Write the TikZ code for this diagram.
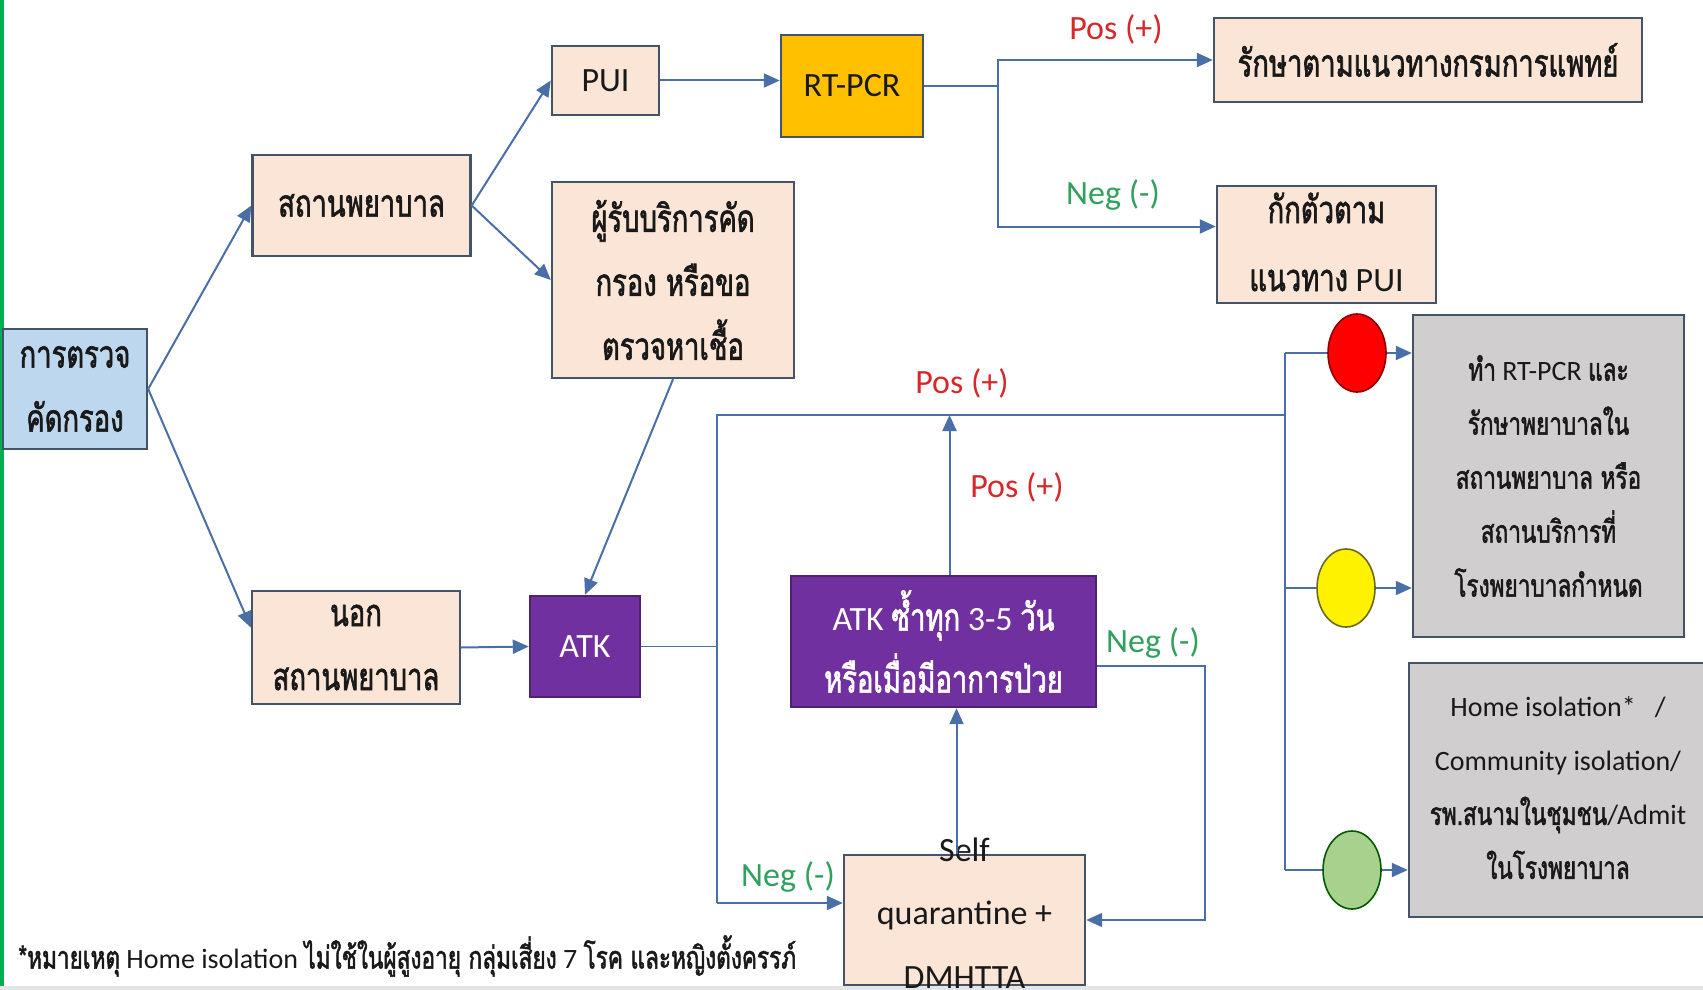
\documentclass[tikz,border=0pt]{standalone}
\usepackage{fontspec}
\setmainfont{Carlito}
\newfontfamily\thaifont[Script=Thai,FakeStretch=0.72,Scale=1.12,FakeBold=1.6]{Loma}
\newcommand\thtxt[1]{{\thaifont #1}}
\usetikzlibrary{arrows.meta,shapes.geometric}

\definecolor{peach}{HTML}{FBE5D6}
\definecolor{skyfill}{HTML}{BDD7EE}
\definecolor{boxline}{HTML}{445468}
\definecolor{arrowblue}{HTML}{4A6FA8}
\definecolor{rtorange}{HTML}{FFC000}
\definecolor{atkpurple}{HTML}{7030A0}
\definecolor{grayfill}{HTML}{D0CECE}
\definecolor{posred}{HTML}{D6282B}
\definecolor{neggreen}{HTML}{2FA05E}
\definecolor{edgegreen}{HTML}{00B050}

\tikzset{
  box/.style={draw=boxline, line width=1.2pt, fill=peach, align=center,
    inner sep=0pt, text=black!90, font=\fontsize{17}{32}\selectfont},
  graybox/.style={box, fill=grayfill, font=\fontsize{14}{27}\selectfont},
  purplebox/.style={box, fill=atkpurple, draw=atkpurple!70!black, text=white},
  arr/.style={draw=arrowblue, line width=1pt, -{Triangle[length=8pt,width=7pt]}},
  wire/.style={draw=arrowblue, line width=0.7pt},
  dot/.style={ellipse, draw, line width=0.8pt, minimum width=29pt,
    minimum height=39pt, inner sep=0pt},
  poslabel/.style={text=posred, font=\fontsize{17}{20}\selectfont},
  neglabel/.style={text=neggreen, font=\fontsize{17}{20}\selectfont}
}

\begin{document}
\begin{tikzpicture}[x=0.5pt, y=-0.5pt]
  \useasboundingbox (0,0) rectangle (1703,990);
  \fill[edgegreen] (0,0) rectangle (4,990);
  \fill[black!10] (0,986) rectangle (1703,990);

  % left part
  \node[box, fill=skyfill, minimum width=72pt, minimum height=60pt] (screen) at (75,389)
    {\thtxt{การตรวจ}\\\thtxt{คัดกรอง}};
  \node[box, minimum width=109pt, minimum height=50.5pt] (hosp) at (361.5,205.5)
    {\thtxt{สถานพยาบาล}};
  \node[box, minimum width=104pt, minimum height=56.5pt] (outside) at (356,647.5)
    {\thtxt{นอก}\\\thtxt{สถานพยาบาล}};
  \node[box, minimum width=53.5pt, minimum height=34.5pt] (pui) at (605.5,80.5) {PUI};
  \node[box, fill=rtorange, minimum width=71pt, minimum height=51pt] (rtpcr) at (852,86) {RT-PCR};
  \node[box, minimum width=121pt, minimum height=98pt] (screenreq) at (673,280)
    {\thtxt{ผู้รับบริการคัด}\\\thtxt{กรอง หรือขอ}\\\thtxt{ตรวจหาเชื้อ}};
  \node[purplebox, minimum width=55pt, minimum height=50.5pt] (atk) at (585,646.5) {ATK};

  % top right
  \node[box, minimum width=214pt, minimum height=42pt] (treat) at (1428,60)
    {\thtxt{รักษาตามแนวทางกรมการแพทย์}};
  \node[box, minimum width=109.5pt, minimum height=58.5pt] (quarantine) at (1326.5,244.5) {};
  \node[align=center, font=\fontsize{17}{34}\selectfont, text=black!90] (quarantinetext)
    at (1326.5,242) {\thtxt{กักตัวตาม}\\\thtxt{แนวทาง} PUI};

  % middle
  \node[purplebox, minimum width=152.5pt, minimum height=65.5pt, font=\fontsize{17}{31}\selectfont]
    (atkrep) at (943.5,641.5) {ATK \thtxt{ซ้ำทุก} 3-5 \thtxt{วัน}\\\thtxt{หรือเมื่อมีอาการป่วย}};
  \node[box, minimum width=120.5pt, minimum height=65pt] (selfq) at (964.5,920) {};
  \node[align=center, font=\fontsize{17}{31.75}\selectfont, text=black!90] (selfqtext)
    at (964.5,913) {Self\\quarantine +\\DMHTTA};

  % right
  \node[graybox, minimum width=135.5pt, minimum height=161pt] (gray1) at (1548.5,476)
    {\thtxt{ทำ} RT-PCR \thtxt{และ}\\\thtxt{รักษาพยาบาลใน}\\\thtxt{สถานพยาบาล หรือ}\\\thtxt{สถานบริการที่}\\\thtxt{โรงพยาบาลกำหนด}};
  \node[graybox, minimum width=155.5pt, minimum height=127pt] (gray2) at (1564.5,790) {};
  \node[align=center, font=\fontsize{14}{27}\selectfont, text=black!90] (gray2text) at (1558,788)
    {Home isolation*~~ /\\Community isolation/\\\thtxt{รพ.สนามในชุมชน}/Admit\\\thtxt{ในโรงพยาบาล}};
  \node[dot, fill=red, draw=red!55!black] (red) at (1357,353) {};
  \node[dot, fill=yellow, draw=olive!70!black] (yellow) at (1346,588) {};
  \node[dot, fill={rgb,255:red,169;green,209;blue,142}, draw=green!35!black] (green) at (1352,870) {};

  % connectors
  \draw[arr] (screen.east) -- (hosp.west);
  \draw[arr] (screen.east) -- ([yshift=10pt]outside.west);
  \draw[arr] (hosp.east) -- (pui.west);
  \draw[arr] (hosp.east) -- (screenreq.west);
  \draw[arr] (pui.east) -- (pui.east -| rtpcr.west);
  \coordinate (split) at (998,86);
  \draw[wire] (rtpcr.east) -- (split);
  \draw[arr] (split) |- (treat.west);
  \draw[arr] (split) |- ([yshift=9pt]quarantine.west);
  \node[poslabel] (posrt) at (1116,29) {Pos (+)};
  \node[neglabel] (negrt) at (1113,195) {Neg (-)};

  \draw[arr] (screenreq.south) -- (atk.north);
  \draw[arr] (outside.east) -- (atk.west);
  \coordinate (lt) at (717,415);
  \coordinate (lb) at (717,903);
  \coordinate (fork) at (1285,415);
  \draw[wire] (atk.east) -- (atk.east -| lt);
  \draw[wire] (lb) -- (lt) -- (fork);
  \draw[wire] (fork |- red) -- (fork |- green);
  \draw[wire] (fork |- red) -- (red.west);
  \draw[wire] (fork |- yellow) -- (yellow.west);
  \draw[wire] (fork |- green) -- (green.west);
  \draw[arr] (red.east) -- (red.east -| gray1.west);
  \draw[arr] (yellow.east) -- (yellow.east -| gray1.west);
  \draw[arr] (green.east) -- (green.east -| gray2.west);
  \node[poslabel] (postop) at (962,383) {Pos (+)};

  \draw[arr] ([xshift=3pt]atkrep.north) -- ([xshift=3pt]atkrep.north |- lt);
  \node[poslabel] (posatk) at (1017,487) {Pos (+)};
  \coordinate (rneg) at (1205,800);
  \draw[arr] ([yshift=-12pt]atkrep.east) -| (rneg) |- (selfq.east);
  \node[neglabel] (negatk) at (1153,643) {Neg (-)};
  \draw[arr] (lb) -- (lb -| selfq.west);
  \node[neglabel] (negleft) at (788,877) {Neg (-)};
  \draw[arr] ([xshift=-4pt]selfq.north) -- ([xshift=-4pt]selfq.north |- atkrep.south);

  % footnote
  \node[anchor=west, font=\fontsize{14}{16}\selectfont, text=black!90, inner sep=0pt] (note) at (18,956)
    {\thtxt{*หมายเหตุ} Home isolation \thtxt{ไม่ใช้ในผู้สูงอายุ กลุ่มเสี่ยง} 7 \thtxt{โรค และหญิงตั้งครรภ์}};
\end{tikzpicture}
\end{document}
